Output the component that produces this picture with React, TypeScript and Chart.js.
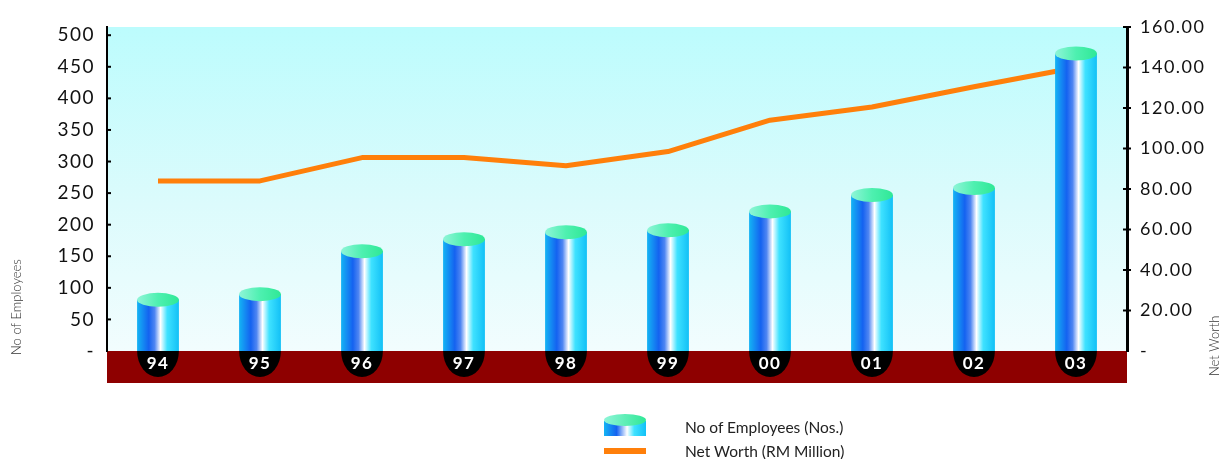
import React, { useEffect, useRef } from "react";
import { Chart, registerables } from "chart.js";

Chart.register(...registerables);

const years = ["94", "95", "96", "97", "98", "99", "00", "01", "02", "03"];
const employees = [81, 90, 158, 177, 188, 191, 221, 247, 258, 471];
const netWorth = [84, 84, 95.5, 95.5, 91.5, 98.5, 114, 120.5, 130.5, 140];
const leftTicks = [0, 50, 100, 150, 200, 250, 300, 350, 400, 450, 500];
const rightTicks = [0, 20, 40, 60, 80, 100, 120, 140, 160];

const FONT = "Lato, 'Open Sans', sans-serif";
const BAR_PCT = 0.41;

function barGradient(ctx: CanvasRenderingContext2D, x0: number, w: number) {
  const g = ctx.createLinearGradient(x0, 0, x0 + w, 0);
  g.addColorStop(0, "#14b4f4");
  g.addColorStop(0.28, "#1462f0");
  g.addColorStop(0.42, "#4f86f2");
  g.addColorStop(0.56, "#ffffff");
  g.addColorStop(0.72, "#3fe2ff");
  g.addColorStop(1, "#12c0f6");
  return g;
}

const decorPlugin = {
  id: "decor",
  beforeDraw(chart: any) {
    const { ctx, chartArea } = chart;
    const { left, right, top, bottom } = chartArea;
    ctx.save();
    const g = ctx.createLinearGradient(0, top, 0, bottom);
    g.addColorStop(0, "#bcfcfd");
    g.addColorStop(0.55, "#dcfbfc");
    g.addColorStop(1, "#f2fdfe");
    ctx.fillStyle = g;
    ctx.fillRect(left, top, right - left, bottom - top);
    ctx.fillStyle = "#8e0000";
    ctx.fillRect(left, bottom, right - left, 32);
    const meta = chart.getDatasetMeta(0);
    meta.data.forEach((bar: any) => {
      const w = bar.width;
      ctx.beginPath();
      ctx.ellipse(bar.x, bottom, w / 2, 26, 0, 0, Math.PI);
      ctx.closePath();
      ctx.fillStyle = "#000";
      ctx.fill();
    });
    ctx.restore();
    ctx.letterSpacing = "1.5px";
  },
  beforeDatasetsDraw(chart: any) {
    chart.ctx.letterSpacing = "0px";
  },
  afterDatasetsDraw(chart: any) {
    const { ctx, chartArea } = chart;
    ctx.save();
    const meta = chart.getDatasetMeta(0);
    meta.data.forEach((bar: any) => {
      const w = bar.width;
      const g = ctx.createLinearGradient(bar.x - w / 2, 0, bar.x + w / 2, 0);
      g.addColorStop(0, "#8ff5d8");
      g.addColorStop(0.5, "#4ef0b0");
      g.addColorStop(1, "#2fe896");
      ctx.beginPath();
      ctx.ellipse(bar.x, bar.y, w / 2, 7, 0, 0, Math.PI * 2);
      ctx.fillStyle = g;
      ctx.fill();
    });
    ctx.strokeStyle = "#000";
    ctx.lineWidth = 2;
    const yl = chart.scales.y;
    yl.ticks.forEach((t: any) => {
      if (t.value === 0) return;
      const py = yl.getPixelForValue(t.value);
      ctx.beginPath();
      ctx.moveTo(chartArea.left, py);
      ctx.lineTo(chartArea.left + 4, py);
      ctx.stroke();
    });
    const yr = chart.scales.y1;
    yr.ticks.forEach((t: any) => {
      if (t.value === 0) return;
      const py = yr.getPixelForValue(t.value);
      ctx.beginPath();
      ctx.moveTo(chartArea.right - 4, py);
      ctx.lineTo(chartArea.right + 4, py);
      ctx.stroke();
    });
    ctx.fillStyle = "#333";
    ctx.font = `300 13px ${FONT}`;
    ctx.textBaseline = "middle";
    ctx.textAlign = "left";
    ctx.save();
    ctx.translate(17, chartArea.bottom + 4);
    ctx.rotate(-Math.PI / 2);
    ctx.fillText("No of Employees", 0, 0);
    ctx.restore();
    ctx.save();
    ctx.translate(1215, chartArea.bottom + 25);
    ctx.rotate(-Math.PI / 2);
    ctx.fillText("Net Worth", 0, 0);
    ctx.restore();
    ctx.restore();
  },
};

export default function App() {
  const ref = useRef<HTMLCanvasElement>(null);
  useEffect(() => {
    document.body.style.margin = "0";
    const chart = new Chart(ref.current!, {
      type: "bar",
      data: {
        labels: years,
        datasets: [
          {
            type: "bar",
            label: "No of Employees (Nos.)",
            data: employees,
            yAxisID: "y",
            order: 0,
            barPercentage: BAR_PCT,
            categoryPercentage: 1,
            backgroundColor: (c: any) => {
              const ch = c.chart;
              const ca = ch.chartArea;
              const xs = ch.scales && ch.scales.x;
              if (!ca || !xs || c.dataIndex === undefined) return "#1e90ff";
              const w = (ca.width / years.length) * BAR_PCT;
              const cx = xs.getPixelForValue(c.dataIndex);
              return barGradient(ch.ctx, cx - w / 2, w);
            },
            borderWidth: 0,
          } as any,
          {
            type: "line",
            label: "Net Worth (RM Million)",
            data: netWorth,
            yAxisID: "y1",
            order: 1,
            borderColor: "#ff7f0a",
            borderWidth: 5,
            borderJoinStyle: "round",
            pointRadius: 0,
            tension: 0,
          } as any,
        ],
      },
      options: {
        animation: false,
        responsive: false,
        layout: { padding: { top: 27, bottom: 76, left: 0, right: 0 } },
        plugins: { legend: { display: false }, tooltip: { enabled: false } },
        scales: {
          x: {
            offset: true,
            grid: { display: false, drawTicks: false },
            border: { display: false },
            ticks: {
              color: "#fff",
              padding: 2,
              font: { family: FONT, size: 17, weight: "bold" },
            },
            afterFit: (s: any) => {
              s.height = 32;
            },
          },
          y: {
            position: "left",
            min: 0,
            max: 513,
            afterBuildTicks: (s: any) => {
              s.ticks = leftTicks.map((v) => ({ value: v }));
            },
            grid: { display: false, drawTicks: false },
            border: { display: true, color: "#000", width: 2 },
            ticks: {
              color: "#111",
              padding: 12,
              font: { family: FONT, size: 19 },
              callback: (v: any) => (v === 0 ? "-" : String(v)),
            },
            afterFit: (s: any) => {
              s.width = 107;
            },
          },
          y1: {
            position: "right",
            min: 0,
            max: 160,
            afterBuildTicks: (s: any) => {
              s.ticks = rightTicks.map((v) => ({ value: v }));
            },
            grid: { display: false, drawTicks: false },
            border: { display: true, color: "#000", width: 3 },
            ticks: {
              color: "#111",
              padding: 13,
              font: { family: FONT, size: 18 },
              callback: (v: any) => (v === 0 ? "-" : Number(v).toFixed(2)),
            },
            afterFit: (s: any) => {
              s.width = 98;
            },
          },
        },
      } as any,
      plugins: [decorPlugin],
    });
    return () => chart.destroy();
  }, []);

  const legendText: React.CSSProperties = {
    position: "absolute",
    left: 685,
    fontFamily: FONT,
    fontSize: 15.5,
    fontWeight: 400,
    color: "#222",
    lineHeight: "18px",
  };

  return (
    <div style={{ position: "relative", width: 1225, height: 459, background: "#fff" }}>
      <canvas ref={ref} width={1225} height={459} style={{ display: "block" }} />
      <div
        style={{
          position: "absolute",
          left: 604,
          top: 421,
          width: 42,
          height: 15,
          background:
            "linear-gradient(90deg,#14b4f4 0%,#1462f0 30%,#ffffff 55%,#3fe2ff 72%,#12c0f6 100%)",
        }}
      />
      <div
        style={{
          position: "absolute",
          left: 604,
          top: 414,
          width: 42,
          height: 12,
          borderRadius: "50%",
          background: "linear-gradient(90deg,#8ff5d8,#2fe896)",
        }}
      />
      <div
        style={{
          position: "absolute",
          left: 604,
          top: 448,
          width: 42,
          height: 6,
          background: "#ff7f0a",
        }}
      />
      <div style={{ ...legendText, top: 418 }}>No of Employees (Nos.)</div>
      <div style={{ ...legendText, top: 442 }}>Net Worth (RM Million)</div>
    </div>
  );
}
